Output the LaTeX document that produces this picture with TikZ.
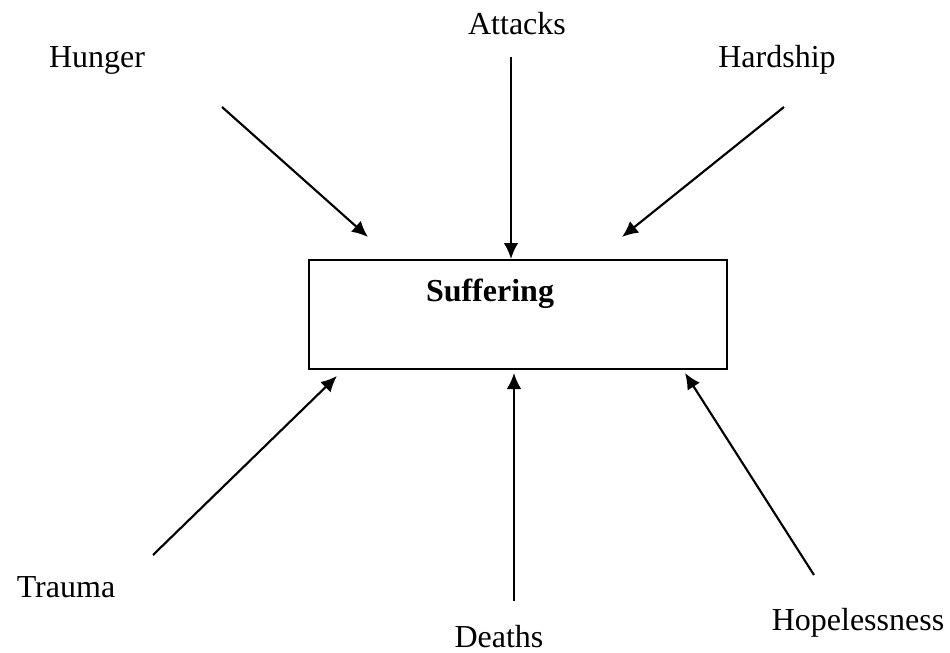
\documentclass[tikz,border=0pt]{standalone}
\usepackage{fontspec}
\setmainfont{Liberation Serif}
\usetikzlibrary{arrows.meta}
\begin{document}
\begin{tikzpicture}[x=0.375pt,y=-0.375pt,
  cause/.style={font=\fontsize{12}{14}\selectfont, inner sep=0pt},
  push/.style={line width=0.8pt, -{Latex[length=6pt,width=5.5pt]}},
  core/.style={draw, line width=0.8pt, minimum width=156.75pt, minimum height=40.9pt, inner sep=0pt}]
\useasboundingbox (0,0) rectangle (950,653);
% centre box
\node [core] (box) at (518,314.5) {};
\node [cause, font=\fontsize{12}{14}\selectfont\bfseries] (suffering) at (490,294) {Suffering};
% causes
\node [cause] (hunger) at (97,60) {Hunger};
\node [cause] (attacks) at (517,24) {Attacks};
\node [cause] (hardship) at (777,60) {Hardship};
\node [cause] (trauma) at (66,587) {Trauma};
\node [cause] (deaths) at (499,637) {Deaths};
\node [cause] (hope) at (858,623) {Hopelessness};
% arrow ends
\coordinate (h1) at (222,107); \coordinate (h2) at (368,237);
\coordinate (a1) at (511,57);  \coordinate (a2) at (511,259);
\coordinate (s1) at (784,107); \coordinate (s2) at (622,237);
\coordinate (t1) at (153,555); \coordinate (t2) at (337,376);
\coordinate (d1) at (514,601); \coordinate (d2) at (514,373);
\coordinate (p1) at (814,575); \coordinate (p2) at (685,373);
\draw [push] (h1) -- (h2);
\draw [push] (a1) -- (a2);
\draw [push] (s1) -- (s2);
\draw [push] (t1) -- (t2);
\draw [push] (d1) -- (d2);
\draw [push] (p1) -- (p2);
\end{tikzpicture}
\end{document}
